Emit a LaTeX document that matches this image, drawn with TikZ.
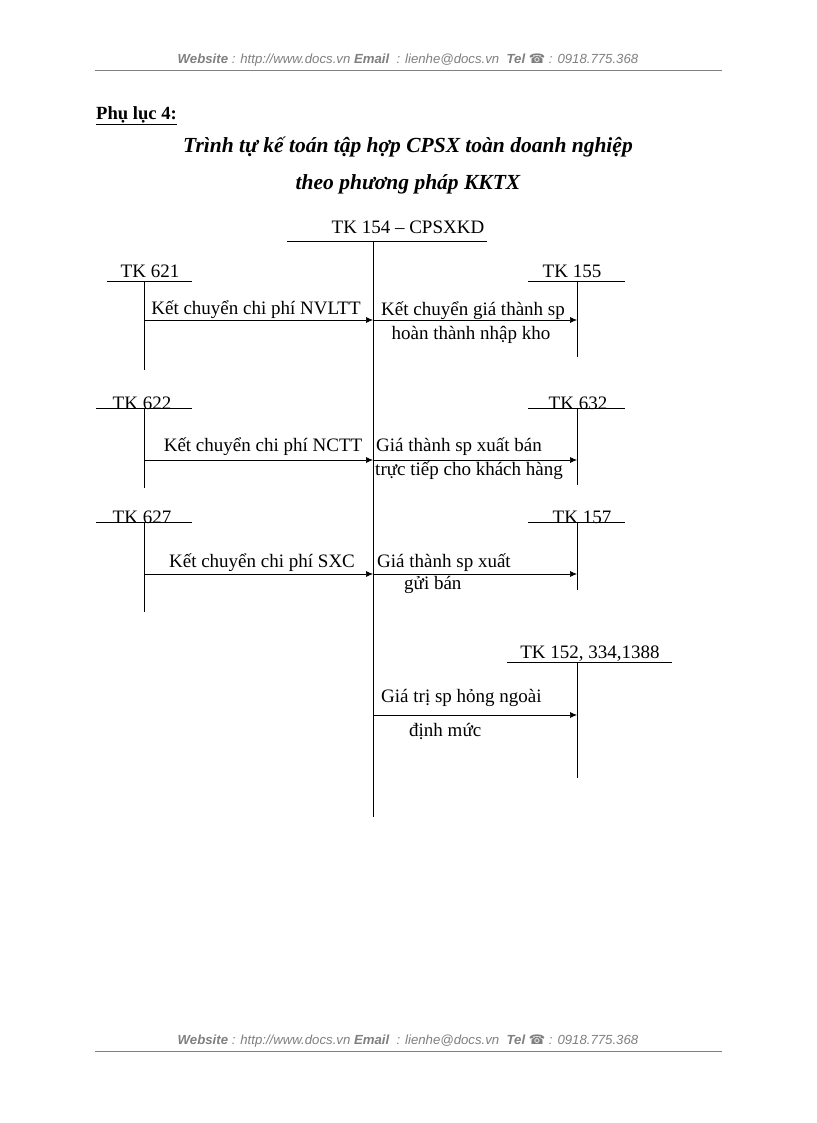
\documentclass[tikz,border=0pt]{standalone}
\usepackage{fontspec}
\setmainfont{Liberation Serif}
\newfontfamily\hdr{Liberation Sans}
\newfontfamily\djvsym{DejaVu Sans}
\usetikzlibrary{arrows.meta}
\begin{document}
\begin{tikzpicture}[x=1pt,y=-1pt,
  ln/.style={line width=0.7pt},
  arr/.style={line width=0.7pt,-{Latex[length=7pt,width=6pt]}},
  txt/.style={font=\fontsize{19}{22}\selectfont,inner sep=0pt},
  hd/.style={font=\hdr\itshape\fontsize{13.2}{15}\selectfont,text=gray,inner sep=0pt}]
\useasboundingbox[fill=white] (0,0) rectangle (816,1123);
% header/footer
\foreach \y/\n in {60/h,1041/f}{
 \node[hd] (\n) at (408,\y) {\textbf{Website} : http://www.docs.vn \textbf{Email} \ : lienhe@docs.vn \ \textbf{Tel} {\djvsym\upshape ☎} : 0918.775.368};
}
\coordinate (h1) at (95,70); \coordinate (h2) at (722,70);
\draw[gray,line width=0.8pt] (h1) -- (h2);
\coordinate (f1) at (95,1051); \coordinate (f2) at (722,1051);
\draw[gray,line width=0.8pt] (f1) -- (f2);
% titles
\node[txt,anchor=west,font=\bfseries\fontsize{18.6}{21}\selectfont] (pl) at (96,116) {\underline{Phụ lục 4:}};
\node[txt,font=\bfseries\itshape\fontsize{21.5}{25}\selectfont] (t1) at (408,147) {Trình tự kế toán tập hợp CPSX toàn doanh nghiệp};
\node[txt,font=\bfseries\itshape\fontsize{21.5}{25}\selectfont] (t2) at (408,184) {theo phương pháp KKTX};
% central T account
\node[txt] (k154) at (408,227) {TK 154 – CPSXKD};
\coordinate (c1) at (287,241); \coordinate (c2) at (487,241);
\coordinate (ct) at (373,241); \coordinate (cb) at (373,817);
\draw[ln] (c1) -- (c2); \draw[ln] (ct) -- (cb);
% left accounts
\foreach \n/\lab/\lx/\ty/\by/\tx/\dy in {621/TK 621/107/281/370/150/-4, 622/TK 622/96/408/488/142/1, 627/TK 627/96/522/612/142/1}{
 \coordinate (L\n a) at (\lx,\ty); \coordinate (L\n b) at (192,\ty);
 \coordinate (L\n t) at (144,\ty); \coordinate (L\n e) at (144,\by);
 \draw[ln] (L\n a) -- (L\n b); \draw[ln] (L\n t) -- (L\n e);
 \node[txt,anchor=base] (N\n) at (\tx,\ty+\dy) {\lab};
}
% right accounts
\foreach \n/\lab/\lx/\rx/\ty/\by/\tx/\dy in {155/TK 155/528/625/281/357/572/-4, 632/TK 632/528/625/408/485/578/1, 157/TK 157/528/625/522/590/582/1, 152/{TK 152, 334,1388}/507/672/662/778/590/-4}{
 \coordinate (R\n a) at (\lx,\ty); \coordinate (R\n b) at (\rx,\ty);
 \coordinate (R\n t) at (577,\ty); \coordinate (R\n e) at (577,\by);
 \draw[ln] (R\n a) -- (R\n b); \draw[ln] (R\n t) -- (R\n e);
 \node[txt,anchor=base] (M\n) at (\tx,\ty+\dy) {\lab};
}
% arrows
\foreach \y/\n in {320/621,460/622,574/627}{
 \coordinate (s\n) at (144,\y); \coordinate (m\n) at (373,\y);
 \draw[arr] (s\n) -- (m\n);
}
\foreach \y/\n in {320/155,460/632,574/157,715/152}{
 \coordinate (u\n) at (373,\y); \coordinate (v\n) at (577,\y);
 \draw[arr] (u\n) -- (v\n);
}
% labels
\node[txt] (a1) at (256,310) {Kết chuyển chi phí NVLTT};
\node[txt] (a2) at (263,447) {Kết chuyển chi phí NCTT};
\node[txt] (a3) at (262,563) {Kết chuyển chi phí SXC};
\node[txt] (b1) at (473,311) {Kết chuyển giá thành sp};
\node[txt] (b2) at (471,335) {hoàn thành nhập kho};
\node[txt] (b3) at (459,447) {Giá thành sp xuất bán};
\node[txt] (b4) at (469,471) {trực tiếp cho khách hàng};
\node[txt,anchor=west] (b5) at (377,563) {Giá thành sp xuất};
\node[txt,anchor=west] (b6) at (404,585) {gửi bán};
\node[txt,anchor=west] (b7) at (381,698) {Giá trị sp hỏng ngoài};
\node[txt,anchor=west] (b8) at (409,731) {định mức};
\end{tikzpicture}
\end{document}
